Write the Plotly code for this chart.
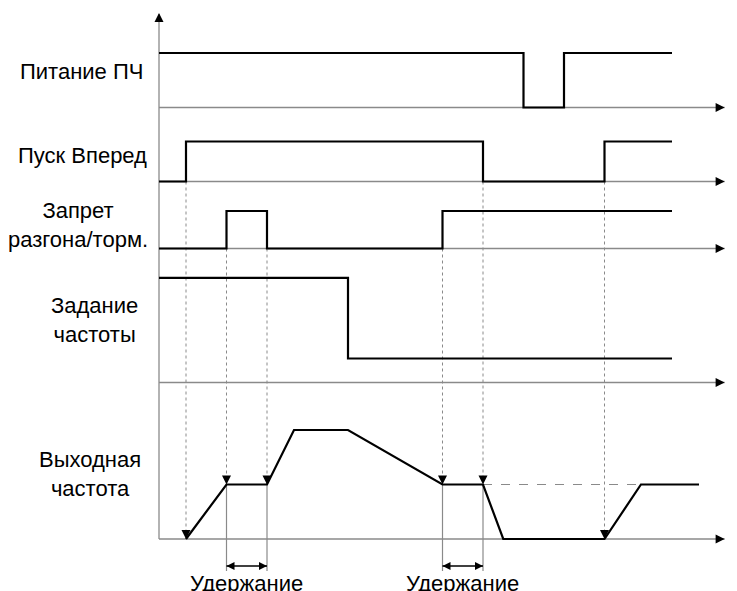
import plotly.graph_objects as go

# ------------------------------------------------------------
# data: time in arbitrary units, logic levels 0/1, frequencies in Hz
# ------------------------------------------------------------
power_t = [0, 27, 30, 38]
power_v = [1, 0, 1, 1]

run_t = [0, 2, 24, 33, 38]
run_v = [0, 1, 0, 1, 1]

inhibit_t = [0, 5, 8, 21, 38]
inhibit_v = [0, 1, 0, 1, 1]

ref_t = [0, 14, 38]
ref_v = [48, 11, 11]

out_t = [2, 5, 8, 10, 14, 21, 24, 25.5, 33, 35.7, 40]
out_v = [0, 25, 25, 50, 50, 25, 25, 0, 0, 25, 25]

# dotted cause -> effect links (time, source row, output freq at arrow tip)
event_t = [2, 5, 8, 21, 24, 33]
event_src = ["run", "inhibit", "inhibit", "inhibit", "run", "run"]
event_out = [0, 25, 25, 25, 25, 0]

hold_start = [5, 21]
hold_end = [8, 24]
hold_freq = 25
hold_text = "Удержание"

row_labels = ["Питание ПЧ", "Пуск Вперед", "Запрет<br>разгона/торм.",
              "Задание<br>частоты", "Выходная<br>частота"]

# ------------------------------------------------------------
# layout helpers (rows stacked on a pixel-like y scale)
# ------------------------------------------------------------
PAGE_OFF = 8                 # default body margin of the page
W, H = 737 - PAGE_OFF, 591 - PAGE_OFF
X0, XS = 159 - PAGE_OFF, 13.5  # pixel of t=0 inside the figure, pixels per time unit
T_END = 41.9                 # arrow tip of the time axes
ROWS = {                     # baseline, pixels per unit
    "power": (107.5, 54.5),
    "run": (181.5, 40),
    "inhibit": (248.5, 37.5),
    "ref": (382.5, 2.18),
    "out": (539, 2.18),
}
GRAY = "#8a8a8a"
FONT = "Liberation Sans, Arial, sans-serif"
FS = 22


def ypos(row, vals):
    base, k = ROWS[row]
    return [base - v * k for v in vals]


fig = go.Figure()

# time axes (thin gray with black arrow heads)
for row in ROWS:
    base = ROWS[row][0]
    fig.add_trace(go.Scatter(x=[0, T_END], y=[base, base], mode="lines",
                             line=dict(color=GRAY, width=1.3), hoverinfo="skip"))
    fig.add_trace(go.Scatter(x=[T_END], y=[base], mode="markers",
                             marker=dict(symbol="arrow-right", size=9, color="black",
                                         line=dict(width=0)), hoverinfo="skip"))

# vertical axis
fig.add_trace(go.Scatter(x=[0, 0], y=[ROWS["out"][0], 14], mode="lines",
                         line=dict(color=GRAY, width=1.3), hoverinfo="skip"))
fig.add_trace(go.Scatter(x=[0], y=[13], mode="markers",
                         marker=dict(symbol="arrow-up", size=9, color="black",
                                     line=dict(width=0)), hoverinfo="skip"))

# dotted cause -> effect lines
for t, src, f in zip(event_t, event_src, event_out):
    y_top = ROWS[src][0]
    y_tip = ypos("out", [f])[0]
    fig.add_trace(go.Scatter(x=[t, t], y=[y_top, y_tip - 6], mode="lines",
                             line=dict(color=GRAY, width=1, dash="dot"), hoverinfo="skip"))
    fig.add_trace(go.Scatter(x=[t], y=[y_tip], mode="markers",
                             marker=dict(symbol="arrow-down", size=9, color="black",
                                         line=dict(width=0)), hoverinfo="skip"))

# dashed continuation of the hold level
fig.add_trace(go.Scatter(x=[hold_end[1], out_t[-2]], y=ypos("out", [hold_freq] * 2),
                         mode="lines", line=dict(color=GRAY, width=1, dash="dash"),
                         hoverinfo="skip"))

# hold brackets
for a, b in zip(hold_start, hold_end):
    y_lvl = ypos("out", [hold_freq])[0]
    for t in (a, b):
        fig.add_trace(go.Scatter(x=[t, t], y=[y_lvl, 571], mode="lines",
                                 line=dict(color=GRAY, width=1.2), hoverinfo="skip"))
    fig.add_trace(go.Scatter(x=[a, b], y=[566, 566], mode="lines",
                             line=dict(color="black", width=1.5), hoverinfo="skip"))
    fig.add_trace(go.Scatter(x=[a, b], y=[566, 566], mode="markers",
                             marker=dict(symbol=["arrow-left", "arrow-right"], size=8,
                                         color="black", line=dict(width=0)),
                             hoverinfo="skip"))
    fig.add_annotation(x=(a + b) / 2, y=583, xref="x", yref="y", text=hold_text,
                       showarrow=False, yanchor="middle",
                       font=dict(family=FONT, size=FS, color="black"))

# signals
for row, t, v, shape in [("power", power_t, power_v, "hv"),
                         ("run", run_t, run_v, "hv"),
                         ("inhibit", inhibit_t, inhibit_v, "hv"),
                         ("ref", ref_t, ref_v, "hv"),
                         ("out", out_t, out_v, "linear")]:
    fig.add_trace(go.Scatter(x=t, y=ypos(row, v), mode="lines",
                             line=dict(color="black", width=2.2, shape=shape),
                             hoverinfo="skip"))

# row labels (page pixel positions)
label_pos = [(81, 71), (82.5, 155), (78, 224.5), (94, 320), (90, 474)]
for txt, (px, py) in zip(row_labels, label_pos):
    fig.add_annotation(x=(px - PAGE_OFF) / W, y=py, xref="paper", yref="y", text=txt,
                       showarrow=False, align="center", xanchor="center", yanchor="middle",
                       font=dict(family=FONT, size=FS, color="black"))

fig.add_annotation(x=(731 - PAGE_OFF) / W, y=ROWS["ref"][0], xref="paper", yref="y",
                   text="<i>t</i>", showarrow=False, xanchor="left", yanchor="middle",
                   font=dict(family="Liberation Serif, Times New Roman, serif", size=22,
                             color="black"))

fig.update_layout(
    width=W, height=H,
    margin=dict(l=0, r=0, t=0, b=0),
    paper_bgcolor="white", plot_bgcolor="white",
    showlegend=False,
    xaxis=dict(range=[-X0 / XS, (W - X0) / XS], visible=False, fixedrange=True),
    yaxis=dict(range=[H + PAGE_OFF, PAGE_OFF], visible=False, fixedrange=True),
)

fig.write_html("out.html")
